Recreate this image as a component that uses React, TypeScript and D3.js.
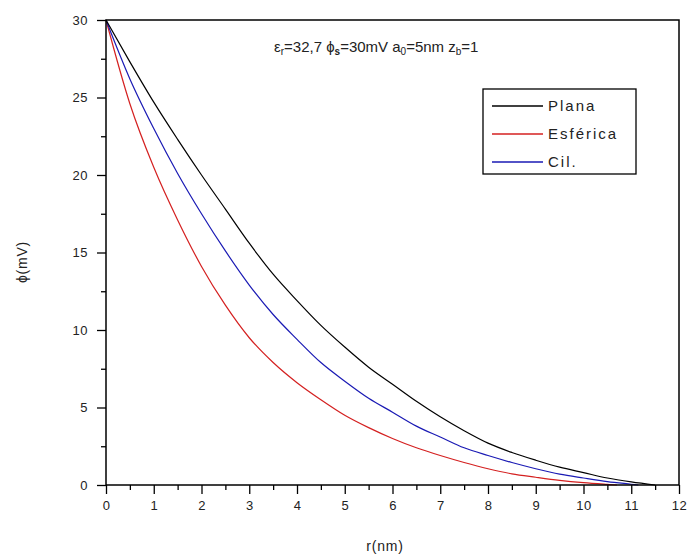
import React, { useEffect, useRef } from 'react';
import * as d3 from 'd3';

// r (nm) and phi (mV)
const rPlana = [0, 0.5, 1, 1.5, 2, 2.5, 3, 3.5, 4, 4.5, 5, 5.5, 6, 6.5, 7, 7.5, 8, 8.5, 9, 9.5, 10, 10.5, 11, 11.5];
const phiPlana = [30, 27.3, 24.7, 22.3, 20.0, 17.8, 15.6, 13.6, 11.9, 10.3, 8.9, 7.6, 6.5, 5.4, 4.4, 3.5, 2.7, 2.1, 1.6, 1.15, 0.8, 0.45, 0.2, 0];

const rEsferica = [0, 0.5, 1, 1.5, 2, 2.5, 3, 3.5, 4, 4.5, 5, 5.5, 6, 6.5, 7, 7.5, 8, 8.5, 9, 9.5, 10, 10.5, 10.7];
const phiEsferica = [30, 24.6, 20.5, 17.1, 14.1, 11.6, 9.5, 7.9, 6.6, 5.5, 4.5, 3.7, 3.0, 2.4, 1.9, 1.45, 1.05, 0.72, 0.5, 0.3, 0.15, 0.04, 0];

const rCil = [0, 0.5, 1, 1.5, 2, 2.5, 3, 3.5, 4, 4.5, 5, 5.5, 6, 6.5, 7, 7.5, 8, 8.5, 9, 9.5, 10, 10.5, 11, 11.15];
const phiCil = [30, 26.2, 23.0, 20.1, 17.5, 15.1, 12.9, 11.0, 9.4, 7.9, 6.7, 5.6, 4.7, 3.8, 3.1, 2.4, 1.9, 1.45, 1.05, 0.7, 0.45, 0.22, 0.05, 0];

const seriesNames = ['Plana', 'Esférica', 'Cil.'];
const seriesColors = ['#000000', '#d42020', '#1a1ab4'];
const xTicks = [0, 1, 2, 3, 4, 5, 6, 7, 8, 9, 10, 11, 12];
const yTicks = [0, 5, 10, 15, 20, 25, 30];

const W = 688;
const H = 557;
const margin = { top: 20, right: 9, bottom: 72, left: 106 };
const FONT = '"Liberation Sans", Arial, sans-serif';

const Chart = () => {
  const ref = useRef<SVGSVGElement | null>(null);

  useEffect(() => {
    const svg = d3.select(ref.current);
    svg.selectAll('*').remove();

    const iw = W - margin.left - margin.right;
    const ih = H - margin.top - margin.bottom;

    const x = d3.scaleLinear().domain([0, 12]).range([0, iw]);
    const y = d3.scaleLinear().domain([0, 30]).range([ih, 0]);

    svg.append('rect').attr('width', W).attr('height', H).attr('fill', '#fff');

    const g = svg.append('g').attr('transform', `translate(${margin.left},${margin.top})`);

    // curves
    const series = [
      { r: rPlana, p: phiPlana },
      { r: rEsferica, p: phiEsferica },
      { r: rCil, p: phiCil },
    ];
    const line = d3
      .line<[number, number]>()
      .x((d) => x(d[0]))
      .y((d) => y(d[1]))
      .curve(d3.curveMonotoneX);

    // red, blue, then black on top at the tail like the original
    [1, 2, 0].forEach((i) => {
      const pts = series[i].r.map((r, k) => [r, series[i].p[k]] as [number, number]);
      g.append('path')
        .attr('d', line(pts))
        .attr('fill', 'none')
        .attr('stroke', seriesColors[i])
        .attr('stroke-width', 1.2);
    });

    // minor ticks
    const minorX = d3.range(0, 12.01, 0.5).filter((v) => v % 1 !== 0);
    const minorY = d3.range(0, 30.01, 2.5).filter((v) => v % 5 !== 0);

    const xAxis = g
      .append('g')
      .attr('transform', `translate(0,${ih})`)
      .call(d3.axisBottom(x).tickValues(xTicks).tickSize(9).tickPadding(7).tickFormat(d3.format('d')));
    g.append('g')
      .attr('transform', `translate(0,${ih})`)
      .call(d3.axisBottom(x).tickValues(minorX).tickSize(5).tickFormat(() => ''))
      .call((a) => a.select('.domain').remove());

    const yAxis = g
      .append('g')
      .call(d3.axisLeft(y).tickValues(yTicks).tickSize(9).tickPadding(9).tickFormat(d3.format('d')));
    g.append('g')
      .call(d3.axisLeft(y).tickValues(minorY).tickSize(5).tickFormat(() => ''))
      .call((a) => a.select('.domain').remove());

    [xAxis, yAxis].forEach((a) => {
      a.select('.domain').remove();
      a.selectAll('text')
        .attr('font-family', FONT)
        .attr('font-size', 13)
        .attr('letter-spacing', 0.5)
        .attr('fill', '#222');
    });
    g.selectAll('.tick line').attr('stroke', '#000').attr('stroke-width', 1.3);

    // frame
    g.append('rect')
      .attr('width', iw)
      .attr('height', ih)
      .attr('fill', 'none')
      .attr('stroke', '#000')
      .attr('stroke-width', 1.5);

    // axis titles
    svg
      .append('text')
      .attr('x', 385)
      .attr('y', 551)
      .attr('text-anchor', 'middle')
      .attr('font-family', FONT)
      .attr('font-size', 14)
      .attr('letter-spacing', 0.8)
      .attr('fill', '#222')
      .text('r(nm)');

    svg
      .append('text')
      .attr('transform', `translate(27,262) rotate(-90)`)
      .attr('text-anchor', 'middle')
      .attr('font-family', FONT)
      .attr('font-size', 14)
      .attr('letter-spacing', 0.8)
      .attr('fill', '#222')
      .text('ϕ(mV)');

    // annotation
    const ann = svg
      .append('text')
      .attr('x', 274)
      .attr('y', 52)
      .attr('font-family', FONT)
      .attr('font-size', 15)
      .attr('fill', '#222');
    const parts: [string, boolean, boolean][] = [
      ['ε', false, false],
      ['r', true, false],
      ['=32,7 ϕ', false, false],
      ['s', true, true],
      ['=30mV a', false, false],
      ['0', true, false],
      ['=5nm z', false, false],
      ['b', true, false],
      ['=1', false, false],
    ];
    parts.forEach(([t, sub, bold]) => {
      ann
        .append('tspan')
        .attr('font-size', sub ? 10 : 15)
        .attr('font-weight', bold ? 'bold' : 'normal')
        .attr('baseline-shift', sub ? '-30%' : '0')
        .text(t);
    });

    // legend
    const lg = svg.append('g').attr('transform', 'translate(483,89)');
    lg.append('rect')
      .attr('width', 153)
      .attr('height', 85)
      .attr('fill', '#fff')
      .attr('stroke', '#000')
      .attr('stroke-width', 1.3);
    seriesNames.forEach((name, i) => {
      const yy = 17 + i * 28;
      lg.append('line')
        .attr('x1', 9)
        .attr('x2', 60)
        .attr('y1', yy)
        .attr('y2', yy)
        .attr('stroke', seriesColors[i])
        .attr('stroke-width', 1.3);
      lg.append('text')
        .attr('x', 65)
        .attr('y', yy + 5)
        .attr('font-family', FONT)
        .attr('font-size', 15)
        .attr('letter-spacing', 2)
        .attr('fill', '#222')
        .text(name);
    });

    return () => {
      svg.selectAll('*').remove();
    };
  }, []);

  return <svg ref={ref} width={W} height={H} style={{ display: 'block' }} />;
};

export default function App() {
  return (
    <div style={{ position: 'absolute', left: 0, top: 0 }}>
      <Chart />
    </div>
  );
}
